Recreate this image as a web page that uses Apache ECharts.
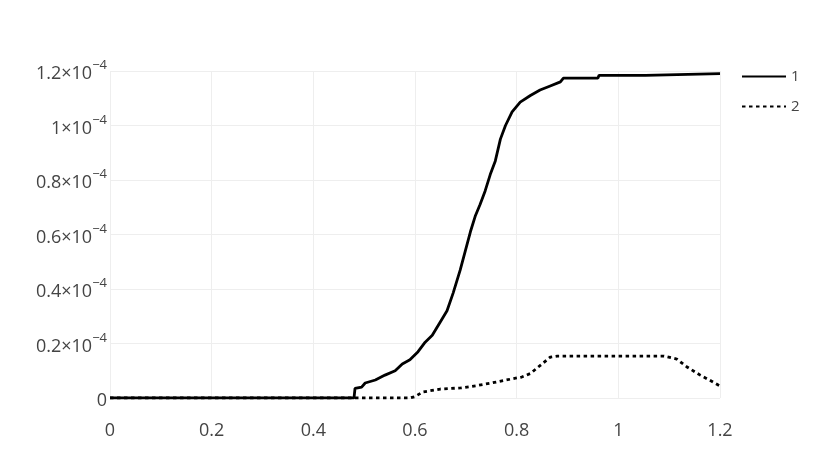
<!DOCTYPE html>
<html>
<head>
<meta charset="utf-8">
<title>chart</title>
<script src="https://cdn.jsdelivr.net/npm/echarts@6/dist/echarts.min.js"></script>
<style>
html, body { margin: 0; padding: 0; background: #fff; }
#main { width: 830px; height: 471px; }
</style>
</head>
<body>
<div id="main"></div>
<script>
// x positions, values in units of 1e-4
var x1 = [0, 0.48, 0.482, 0.495, 0.502, 0.522, 0.541, 0.561, 0.575, 0.59, 0.606, 0.62, 0.634, 0.65, 0.663, 0.675, 0.689, 0.699, 0.709, 0.719, 0.728, 0.738, 0.748, 0.758, 0.768, 0.778, 0.791, 0.807, 0.827, 0.846, 0.866, 0.886, 0.892, 0.96, 0.962, 1.053, 1.055, 1.2];
var y1 = [0, 0, 0.035, 0.04, 0.055, 0.066, 0.084, 0.10, 0.125, 0.14, 0.17, 0.205, 0.23, 0.28, 0.32, 0.385, 0.47, 0.54, 0.61, 0.67, 0.71, 0.76, 0.82, 0.87, 0.95, 1.0, 1.05, 1.086, 1.11, 1.13, 1.145, 1.16, 1.174, 1.174, 1.184, 1.184, 1.19, 1.19];

var x2 = [0, 0.59, 0.6, 0.615, 0.65, 0.69, 0.72, 0.75, 0.79, 0.81, 0.827, 0.84, 0.85, 0.866, 0.88, 1.09, 1.115, 1.135, 1.161, 1.18, 1.2];
var y2 = [0, 0, 0.005, 0.022, 0.033, 0.037, 0.045, 0.055, 0.07, 0.077, 0.09, 0.11, 0.125, 0.15, 0.154, 0.154, 0.143, 0.114, 0.084, 0.065, 0.044];

var names = ['1', '2'];

function pairs(xs, ys) {
    var out = [];
    for (var i = 0; i < xs.length; i++) out.push([xs[i], ys[i]]);
    return out;
}

var myChart = echarts.init(document.getElementById('main'));
var option = {
    animation: false,
    textStyle: { fontFamily: 'Open Sans' },
    grid: { left: 110, right: 110, top: 71, bottom: 73 },
    legend: {
        orient: 'vertical',
        left: 736,
        top: 64,
        itemWidth: 44,
        itemHeight: 14,
        itemGap: 15,
        itemStyle: { opacity: 0 },
        textStyle: { color: '#444', fontSize: 15, fontFamily: 'Open Sans' },
        data: names
    },
    xAxis: {
        type: 'value',
        min: 0,
        max: 1.2,
        interval: 0.2,
        axisLine: { show: false },
        axisTick: { show: false },
        axisLabel: {
            color: '#444',
            fontSize: 18,
            margin: 24,
            formatter: function (v) { return String(+v.toFixed(1)); }
        },
        splitLine: { lineStyle: { color: '#eeeeee', width: 1 } }
    },
    yAxis: {
        type: 'value',
        min: 0,
        max: 1.2,
        interval: 0.2,
        axisLine: { show: false },
        axisTick: { show: false },
        axisLabel: {
            color: '#444',
            margin: 3,
            formatter: function (v) {
                if (v === 0) return '{a|0}';
                return '{a|' + (+v.toFixed(1)) + '×10}{s|−4}';
            },
            rich: {
                a: { fontSize: 18, color: '#444', lineHeight: 24, verticalAlign: 'bottom' },
                s: { fontSize: 13, color: '#444', lineHeight: 24, verticalAlign: 'top' }
            }
        },
        splitLine: { lineStyle: { color: '#eeeeee', width: 1 } }
    },
    series: [{
        name: names[0],
        type: 'line',
        data: pairs(x1, y1),
        showSymbol: false,
        symbol: 'none',
        lineStyle: { color: '#000', width: 2.8 },
        itemStyle: { color: '#000' }
    }, {
        name: names[1],
        type: 'line',
        data: pairs(x2, y2),
        showSymbol: false,
        symbol: 'none',
        lineStyle: { color: '#000', width: 2.8, type: [3.5, 3.5] },
        itemStyle: { color: '#000' }
    }]
};
myChart.setOption(option);
</script>
</body>
</html>
